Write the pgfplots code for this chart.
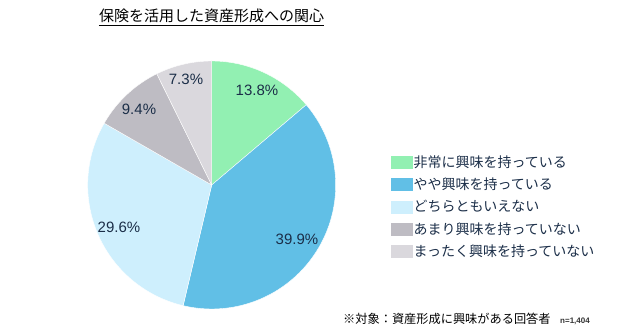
\documentclass[border=0pt]{standalone}
\usepackage{pgfplots}
\pgfplotsset{compat=1.18}
\usepackage{fontspec}
\setmainfont{Liberation Sans}
\newfontfamily\jp{Noto Sans CJK JP}
\definecolor{cA}{RGB}{146,240,178}
\definecolor{cB}{RGB}{97,191,230}
\definecolor{cC}{RGB}{206,239,253}
\definecolor{cD}{RGB}{190,188,195}
\definecolor{cE}{RGB}{218,216,221}
\definecolor{txt}{RGB}{27,46,72}
% values (percent)
\def\vA{13.8}\def\vB{39.9}\def\vC{29.6}\def\vD{9.4}\def\vE{7.3}
\begin{document}
\begin{tikzpicture}
\pgfmathsetmacro{\aA}{90}
\pgfmathsetmacro{\aB}{\aA-3.6*\vA}
\pgfmathsetmacro{\aC}{\aB-3.6*\vB}
\pgfmathsetmacro{\aD}{\aC-3.6*\vC}
\pgfmathsetmacro{\aE}{\aD-3.6*\vD}
\pgfmathsetmacro{\aF}{\aE-3.6*\vE}
\begin{axis}[
  at={(0,0)}, anchor=south west,
  width=638pt, height=334pt, scale only axis,
  xmin=0, xmax=638, ymin=0, ymax=334,
  hide axis, clip=false,
  legend style={draw=none, fill=none, at={(axis cs:387,185.5)}, anchor=north west,
    font=\jp\fontsize{14}{16}\selectfont, text=txt,
    nodes={inner sep=0pt, minimum height=22.9pt},
    row sep=-0.6pt,
    /tikz/every even column/.style={column sep=5pt}},
  legend cell align=left,
  legend image code/.code={\fill[#1] (0pt,-7pt) rectangle (23pt,7pt);},
]
\addplot[fill=cA, draw=white, line width=0.4pt, domain=\aB:\aA, samples=60, variable=\t] ({211.7+124*cos(t)},{149+124*sin(t)}) -- (axis cs:211.7,149) -- cycle;
\addlegendentry{非常に興味を持っている}
\addplot[fill=cB, draw=white, line width=0.4pt, domain=\aC:\aB, samples=80, variable=\t] ({211.7+124*cos(t)},{149+124*sin(t)}) -- (axis cs:211.7,149) -- cycle;
\addlegendentry{やや興味を持っている}
\addplot[fill=cC, draw=white, line width=0.4pt, domain=\aD:\aC, samples=80, variable=\t] ({211.7+124*cos(t)},{149+124*sin(t)}) -- (axis cs:211.7,149) -- cycle;
\addlegendentry{どちらともいえない}
\addplot[fill=cD, draw=white, line width=0.4pt, domain=\aE:\aD, samples=40, variable=\t] ({211.7+124*cos(t)},{149+124*sin(t)}) -- (axis cs:211.7,149) -- cycle;
\addlegendentry{あまり興味を持っていない}
\addplot[fill=cE, draw=white, line width=0.4pt, domain=\aF:\aE, samples=40, variable=\t] ({211.7+124*cos(t)},{149+124*sin(t)}) -- (axis cs:211.7,149) -- cycle;
\addlegendentry{まったく興味を持っていない}
% slice labels
\node[text=txt, font=\fontsize{15}{17}\selectfont] at (axis cs:257,244) {13.8\%};
\node[text=txt, font=\fontsize{15}{17}\selectfont] at (axis cs:297,95) {39.9\%};
\node[text=txt, font=\fontsize{15}{17}\selectfont] at (axis cs:119,107) {29.6\%};
\node[text=txt, font=\fontsize{15}{17}\selectfont] at (axis cs:139,225) {9.4\%};
\node[text=txt, font=\fontsize{15}{17}\selectfont] at (axis cs:186,255) {7.3\%};
% title
\node[font=\jp\fontsize{15}{17}\selectfont, inner sep=0pt] (t) at (axis cs:211.5,318) {保険を活用した資産形成への関心};
\draw[line width=0.8pt] ([yshift=-2pt]t.south west) -- ([yshift=-2pt]t.south east);
% footnote
\node[font=\jp\fontsize{12.2}{14}\selectfont, anchor=base west, inner sep=0pt] at (axis cs:343,10) {※対象：資産形成に興味がある回答者};
\node[font=\bfseries\fontsize{8}{10}\selectfont, anchor=base west, inner sep=0pt, text=black!80] at (axis cs:560,10) {n=1,404};
\end{axis}
\pgfresetboundingbox
\useasboundingbox (0,0) rectangle (638pt,334pt);
\end{tikzpicture}
\end{document}
